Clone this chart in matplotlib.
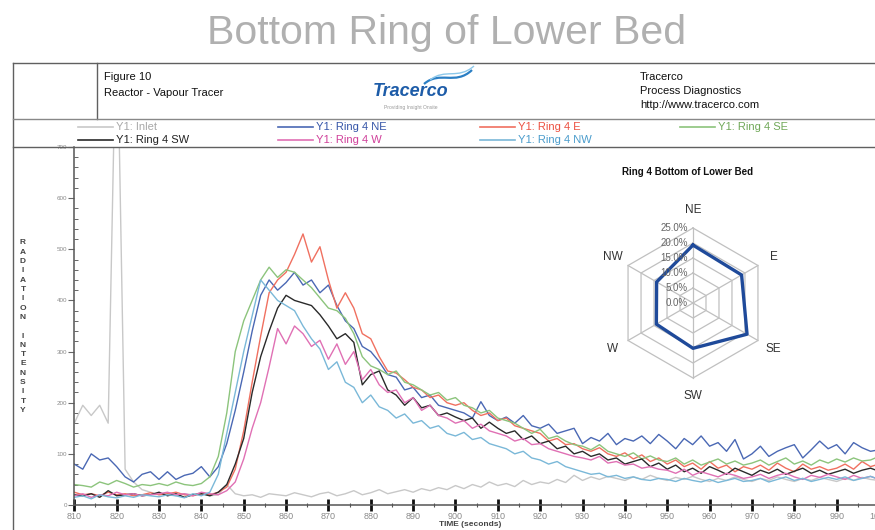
import numpy as np
import matplotlib
matplotlib.use("Agg")
import matplotlib.pyplot as plt
from matplotlib.lines import Line2D
from matplotlib.path import Path
from matplotlib.patches import PathPatch

plt.rcParams['font.family'] = ['Liberation Sans', 'DejaVu Sans']

W, H = 875, 530

# time axis, one reading every 2 s
time = np.arange(810, 1001, 2)

inlet = [160, 195, 175, 195, 160, 1000, 70, 45, 30, 25,
         20, 22, 18, 22, 20, 24, 18, 20, 40, 22,
         18, 20, 15, 22, 20, 18, 24, 20, 16, 22,
         25, 18, 22, 28, 20, 24, 30, 22, 26, 30,
         25, 32, 28, 34, 30, 38, 32, 40, 35, 45,
         38, 42, 36, 48, 40, 45, 42, 50, 44, 58,
         48, 55, 50, 56, 52, 48, 55, 50, 58, 52,
         48, 54, 50, 56, 50, 46, 52, 48, 55, 50,
         46, 52, 48, 55, 50, 46, 52, 48, 54, 50,
         46, 52, 48, 54, 50, 48]

ring_ne = [80, 70, 100, 88, 92, 75, 55, 45, 60, 65,
           50, 65, 50, 58, 62, 75, 55, 75, 120, 185,
           260, 340, 410, 440, 420, 435, 455, 430, 440, 415,
           430, 390, 360, 345, 310, 300, 280, 255, 250, 225,
           230, 210, 215, 195, 190, 185, 180, 170, 202, 175,
           165, 172, 160, 175, 155, 150, 158, 140, 145, 150,
           120, 132, 125, 140, 118, 130, 125, 135, 120, 138,
           125, 110, 130, 118, 135, 115, 122, 105, 128, 90,
           100, 115, 95, 105, 112, 118, 92, 108, 125, 110,
           118, 100, 122, 112, 105, 108]

ring_e = [25, 20, 22, 18, 25, 20, 22, 18, 20, 24,
          20, 22, 25, 20, 18, 22, 20, 25, 35, 70,
          145, 240, 330, 415, 440, 455, 490, 530, 475, 505,
          440, 385, 415, 385, 335, 325, 290, 262, 258, 245,
          230, 225, 210, 215, 200, 195, 200, 185, 175, 180,
          165, 170, 155, 150, 145, 140, 125, 130, 118, 120,
          110, 105, 112, 100, 95, 102, 90, 98, 85, 92,
          80, 88, 75, 82, 70, 85, 72, 78, 65, 75,
          70, 78, 68, 82, 72, 65, 80, 70, 75, 68,
          72, 80, 70, 85, 75, 80]

ring_se = [40, 38, 35, 45, 40, 48, 42, 35, 40, 38,
           42, 38, 45, 40, 38, 42, 55, 95, 180, 300,
           360, 400, 440, 465, 445, 460, 455, 440, 425, 405,
           385, 380, 365, 335, 290, 272, 265, 255, 262, 240,
           235, 225, 215, 220, 205, 210, 195, 190, 180, 185,
           170, 165, 160, 150, 140, 148, 130, 135, 125, 118,
           115, 108, 118, 105, 100, 95, 102, 90, 96, 88,
           85, 92, 80, 88, 78, 84, 90, 80, 86, 78,
           82, 88, 78, 85, 92, 80, 86, 78, 88, 82,
           90, 84, 92, 86, 88, 95]

ring_sw = [20, 18, 22, 15, 28, 18, 20, 22, 18, 20,
           25, 18, 22, 15, 20, 22, 18, 25, 40, 80,
           130, 220, 290, 340, 385, 410, 400, 395, 390, 372,
           350, 325, 335, 318, 235, 255, 262, 225, 215, 195,
           210, 190, 195, 175, 180, 172, 165, 170, 150, 162,
           150, 140, 145, 128, 135, 120, 125, 110, 115, 100,
           105, 95, 100, 88, 92, 80, 85, 90, 75, 82,
           70, 78, 65, 72, 62, 75, 68, 60, 72, 65,
           58, 68, 62, 70, 60, 66, 72, 62, 68, 60,
           65, 70, 62, 68, 72, 66]

ring_w = [18, 22, 15, 20, 18, 25, 20, 22, 18, 20,
          22, 25, 20, 22, 18, 25, 22, 20, 28, 45,
          90, 150, 200, 270, 345, 315, 350, 335, 310, 322,
          285, 315, 275, 300, 245, 265, 235, 220, 225, 200,
          210, 185, 195, 175, 170, 160, 165, 150, 158, 145,
          140, 135, 125, 130, 118, 120, 110, 105, 100, 95,
          92, 88, 95, 82, 85, 78, 80, 72, 75, 70,
          68, 62, 70, 58, 65, 60, 55, 62, 58, 52,
          55, 60, 52, 58, 62, 55, 50, 58, 54, 60,
          55, 50, 58, 52, 56, 50]

ring_nw = [15, 18, 12, 20, 16, 14, 18, 15, 20, 18,
           16, 20, 18, 14, 22, 18, 25, 60, 140, 220,
           300, 370, 440, 420, 400, 390, 380, 350, 325, 305,
           265, 280, 240, 230, 200, 215, 192, 185, 170, 178,
           160, 165, 150, 155, 140, 135, 142, 128, 132, 120,
           115, 110, 100, 105, 92, 88, 80, 85, 75, 70,
           65, 60, 62, 55, 58, 52, 55, 50, 48, 52,
           50, 46, 52, 48, 45, 50, 44, 48, 52, 46,
           48, 52, 45, 50, 55, 48, 52, 46, 50, 54,
           50, 55, 48, 52, 56, 50]

# ring 4 share of tracer per direction (%)
directions = ['NE', 'E', 'SE', 'SW', 'W', 'NW']
share = [19.3, 18.7, 20.8, 15.1, 14.1, 14.0]

series = [
    (inlet, '#c8c8c8', '#a8a8a8', 'Y1: Inlet'),
    (ring_ne, '#4a68b4', '#3555a8', 'Y1: Ring 4 NE'),
    (ring_e, '#f07060', '#ec5040', 'Y1: Ring 4 E'),
    (ring_se, '#8cc47c', '#70a858', 'Y1: Ring 4 SE'),
    (ring_sw, '#2a2a2a', '#222222', 'Y1: Ring 4 SW'),
    (ring_w, '#e070b4', '#d0409a', 'Y1: Ring 4 W'),
    (ring_nw, '#7ab8d8', '#4a9ccc', 'Y1: Ring 4 NW'),
]


def fx(px):
    return px / W


def fy(py):
    return 1 - py / H


fig = plt.figure(figsize=(W / 100, H / 100), dpi=100)


def rule(x0, y0, x1, y1, color='#606060', lw=1.0):
    fig.add_artist(Line2D([fx(x0), fx(x1)], [fy(y0), fy(y1)],
                          transform=fig.transFigure, color=color, lw=lw))


# page title
fig.text(fx(447), fy(33), 'Bottom Ring of Lower Bed', ha='center', va='center',
         fontsize=29.5, color='#b0b0b0')

# report frame
rule(13, 63, 875, 63)
rule(13, 63, 13, 530)
rule(97, 63, 97, 119)
rule(13, 119, 875, 119, color='#888888')
rule(13, 147, 875, 147)

fig.text(fx(104), fy(77), 'Figure 10', fontsize=8, va='center', color='#111111')
fig.text(fx(104), fy(93), 'Reactor - Vapour Tracer', fontsize=8, va='center', color='#111111')
fig.text(fx(640), fy(77), 'Tracerco', fontsize=8, va='center', color='#111111')
fig.text(fx(640), fy(91), 'Process Diagnostics', fontsize=8, va='center', color='#111111')
fig.text(fx(640), fy(105), 'http://www.tracerco.com', fontsize=8, va='center', color='#111111')

# logo
fig.text(fx(411), fy(92), 'Tracerco', fontsize=13, fontweight='bold', fontstyle='italic',
         ha='center', va='center', color='#1d5ca8')
fig.text(fx(411), fy(108), 'Providing Insight Onsite', fontsize=3.6,
         ha='center', va='center', color='#999999')
for (p0, p1, p2, p3), col, lw in [
        (((424, 84), (440, 70), (455, 86), (472, 70)), '#2b7fc4', 1.6),
        (((430, 80), (445, 68), (458, 80), (474, 66)), '#8cc8ea', 1.0)]:
    verts = [(fx(x), fy(y)) for x, y in (p0, p1, p2, p3)]
    path = Path(verts, [Path.MOVETO, Path.CURVE4, Path.CURVE4, Path.CURVE4])
    fig.add_artist(PathPatch(path, fill=False, edgecolor=col, lw=lw,
                             transform=fig.transFigure))

# legend rows
legend_pos = [(78, 127), (278, 127), (480, 127), (680, 127),
              (78, 140), (278, 140), (480, 140)]
for (lx, ly), (vals, col, tcol, lab) in zip(legend_pos, series):
    rule(lx, ly, lx + 35, ly, color=col, lw=1.2)
    fig.text(fx(lx + 38), fy(ly), lab, fontsize=8, va='center', color=tcol)

# main time chart
ax = fig.add_axes([fx(74.3), fy(505), fx(879) - fx(74.3), fy(147) - fy(505)])
ax.patch.set_alpha(0)
for vals, col, tcol, lab in series:
    ax.plot(time, vals, color=col, lw=1.0)
ax.set_xlim(810, 1000)
ax.set_ylim(0, 700)
ax.spines['top'].set_visible(False)
ax.spines['right'].set_visible(False)
for s in ('left', 'bottom'):
    ax.spines[s].set_color('#555555')
    ax.spines[s].set_linewidth(1.1)
ax.set_xticks(np.arange(810, 1001, 10))
ax.set_xticks(np.arange(810, 1001, 5), minor=True)
ax.set_yticks(np.arange(0, 701, 100))
ax.set_yticks(np.arange(0, 701, 20), minor=True)
ax.tick_params(axis='x', which='major', direction='inout', length=8, width=2,
               color='#111111', labelsize=6.5, labelcolor='#8a8a8a', pad=1)
ax.tick_params(axis='x', which='minor', direction='inout', length=3, width=0.8,
               color='#555555')
ax.tick_params(axis='y', which='major', direction='out', length=4, width=0.8,
               color='#666666', labelsize=4.5, labelcolor='#8a8a8a', pad=1)
ax.tick_params(axis='y', which='minor', direction='in', length=3, width=0.7,
               color='#666666')

# stacked axis caption
caption = 'RADIATION INTENSITY'
for k, ch in enumerate(caption):
    fig.text(fx(23), fy(243 + k * 9.3), ch, fontsize=6, fontweight='bold',
             ha='center', va='center', color='#444444')
fig.text(fx(470), fy(524), 'TIME (seconds)', fontsize=6, fontweight='bold',
         ha='center', va='center', color='#444444')

# radar inset
fig.text(fx(687), fy(172), 'Ring 4 Bottom of Lower Bed', fontsize=7, fontweight='bold',
         ha='center', va='center', color='#111111')
rax = fig.add_axes([fx(593), fy(403), fx(793) - fx(593), fy(203) - fy(403)])
rax.set_xlim(-100 / 3, 100 / 3)
rax.set_ylim(-100 / 3, 100 / 3)
rax.axis('off')
ang = np.deg2rad([90, 30, -30, -90, -150, 150])
ang_c = np.append(ang, ang[0])
for r in [5, 10, 15, 20, 25]:
    rax.plot(r * np.cos(ang_c), r * np.sin(ang_c), color='#c0c0c0', lw=0.9)
for a in ang:
    rax.plot([0, 25 * np.cos(a)], [0, 25 * np.sin(a)], color='#c0c0c0', lw=0.9)
vals_c = np.append(share, share[0])
rax.plot(vals_c * np.cos(ang_c), vals_c * np.sin(ang_c), color='#1f4a9a', lw=2.4)
for r in [0, 5, 10, 15, 20, 25]:
    rax.text(-1.8, r, f'{r:.1f}%', fontsize=7, ha='right', va='center', color='#666666')
for a, name in zip(ang, directions):
    rax.text(31 * np.cos(a), 31 * np.sin(a), name, fontsize=8.5, ha='center',
             va='center', color='#333333')

fig.savefig('out.png', dpi=100)
